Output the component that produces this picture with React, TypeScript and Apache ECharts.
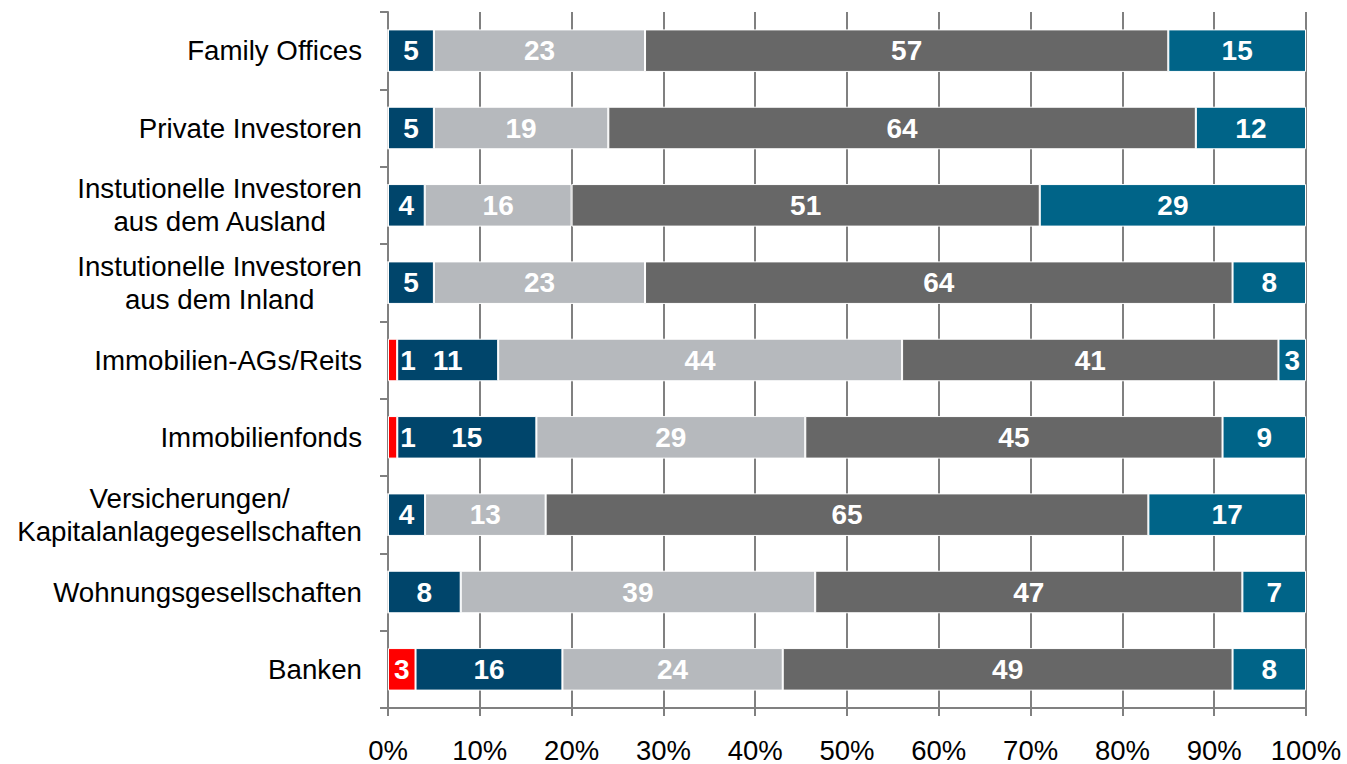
import React, { useEffect, useRef } from 'react';
import * as echarts from 'echarts';

const categories = [
  'Family Offices',
  'Private Investoren',
  'Instutionelle Investoren\naus dem Ausland',
  'Instutionelle Investoren\naus dem Inland',
  'Immobilien-AGs/Reits',
  'Immobilienfonds',
  'Versicherungen/\nKapitalanlagegesellschaften',
  'Wohnungsgesellschaften',
  'Banken',
];

const redValues = [0, 0, 0, 0, 1, 1, 0, 0, 3];
const navyValues = [5, 5, 4, 5, 11, 15, 4, 8, 16];
const lightGrayValues = [23, 19, 16, 23, 44, 29, 13, 39, 24];
const darkGrayValues = [57, 64, 51, 64, 41, 45, 65, 47, 49];
const tealValues = [15, 12, 29, 8, 3, 9, 17, 7, 8];

const seriesNames = ['Rot', 'Dunkelblau', 'Hellgrau', 'Dunkelgrau', 'Blau'];
const seriesColors = ['#FF0000', '#00456B', '#B6B9BD', '#676767', '#006488'];

const FONT = '"Liberation Sans", Arial, Helvetica, sans-serif';

export default function App() {
  const ref = useRef<HTMLDivElement>(null);

  useEffect(() => {
    if (!ref.current) return;
    const chart = echarts.init(ref.current, undefined, { renderer: 'svg' });

    const all = [redValues, navyValues, lightGrayValues, darkGrayValues, tealValues];
    const totals = categories.map((_, i) => all.reduce((s, arr) => s + arr[i], 0));

    const series = all.map((arr, si) => ({
      name: seriesNames[si],
      type: 'bar',
      stack: 'total',
      z: si === 0 ? 4 : 2,
      barCategoryGap: '45%',
      itemStyle: { color: seriesColors[si], borderColor: '#ffffff', borderWidth: 1 },
      label: {
        show: true,
        position: 'inside',
        color: '#ffffff',
        fontFamily: FONT,
        fontWeight: 'bold',
        fontSize: 28,
        formatter: (p: any) => {
          const v = arr[p.dataIndex];
          return v ? String(v) : '';
        },
      },
      data: arr.map((v, i) => {
        const pct = (v / totals[i]) * 100;
        if (si === 0 && v === 1) {
          return { value: pct, label: { position: 'right', distance: 3 } };
        }
        return { value: pct };
      }),
    }));

    chart.setOption({
      animation: false,
      grid: { left: 388, right: 41, top: 12, bottom: 54, containLabel: false },
      xAxis: {
        type: 'value',
        min: 0,
        max: 100,
        interval: 10,
        axisLine: { show: true, lineStyle: { color: '#808080', width: 2 } },
        axisTick: { show: true, length: 8, lineStyle: { color: '#808080', width: 2 } },
        splitLine: { show: true, lineStyle: { color: '#808080', width: 2 } },
        axisLabel: {
          formatter: '{value}%',
          color: '#000000',
          fontFamily: FONT,
          fontSize: 27.5,
          margin: 28,
        },
      },
      yAxis: {
        type: 'category',
        inverse: true,
        data: categories,
        axisLine: { show: true, lineStyle: { color: '#808080', width: 2 } },
        axisTick: { show: true, length: 8, interval: 0, lineStyle: { color: '#808080', width: 2 } },
        axisLabel: {
          interval: 0,
          margin: 26,
          color: '#000000',
          formatter: (val: string) =>
            val
              .split('\n')
              .map((l) => '{c|' + l + '}')
              .join('\n'),
          rich: {
            c: {
              align: 'center',
              fontFamily: FONT,
              fontSize: 27.7,
              lineHeight: 33,
              color: '#000000',
            },
          },
        },
      },
      series,
    });

    return () => chart.dispose();
  }, []);

  return (
    <div
      ref={ref}
      style={{ position: 'fixed', left: 0, top: 0, width: 1347, height: 764, background: '#ffffff' }}
    />
  );
}
